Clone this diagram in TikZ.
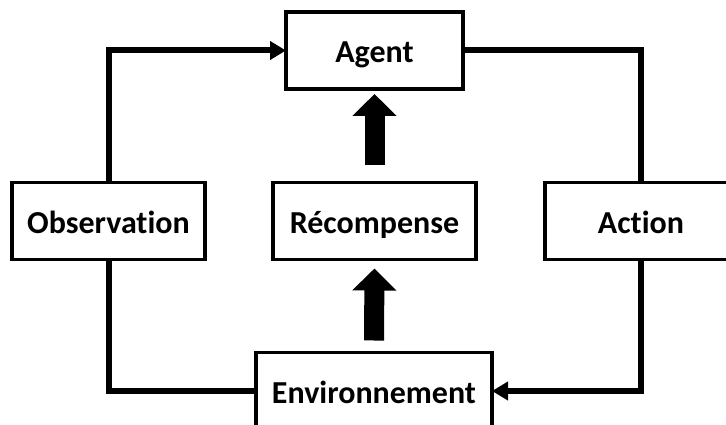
\documentclass[tikz,border=0pt]{standalone}
\usepackage{fontspec}
\setmainfont{Carlito}[Ligatures={NoCommon}]
\usetikzlibrary{arrows.meta}
\begin{document}
\begin{tikzpicture}[x=1pt,y=-1pt,
  box/.style={draw, line width=3.2pt, minimum height=77pt, inner sep=0pt, outer sep=0pt,
    text height=29pt, text depth=4pt,
    font=\fontsize{32}{38}\selectfont\bfseries, fill=white},
  link/.style={line width=6pt, line join=miter},
  linkarrow/.style={link, -{Triangle[length=16pt,width=18pt]}},
  bigarrow/.style={line width=20pt, -{Triangle[length=22pt,width=43pt]}}]
\path[use as bounding box, clip] (0,0) rectangle (726,425);
\node[box, minimum width=177pt] (agent) at (374.5,50.5) {Agent};
\node[box, minimum width=193pt] (obs) at (108.5,221) {Observation};
\node[box, minimum width=203pt] (rec) at (374.5,221) {Récompense};
\node[box, minimum width=192pt] (act) at (641,221) {Action};
\node[box, minimum width=236pt] (env) at (374,391) {Environnement};
\draw[linkarrow] (obs.north) |- (agent.west);
\draw[link] (agent.east) -| (act.north);
\draw[linkarrow] (act.south) |- (env.east);
\draw[link] (obs.south) |- (env.west);
\draw[bigarrow] ([yshift=17pt]rec.north) -- ([yshift=-5pt]agent.south);
\draw[bigarrow] ([yshift=12pt]env.north) -- ([yshift=-9pt]rec.south);
\end{tikzpicture}
\end{document}
